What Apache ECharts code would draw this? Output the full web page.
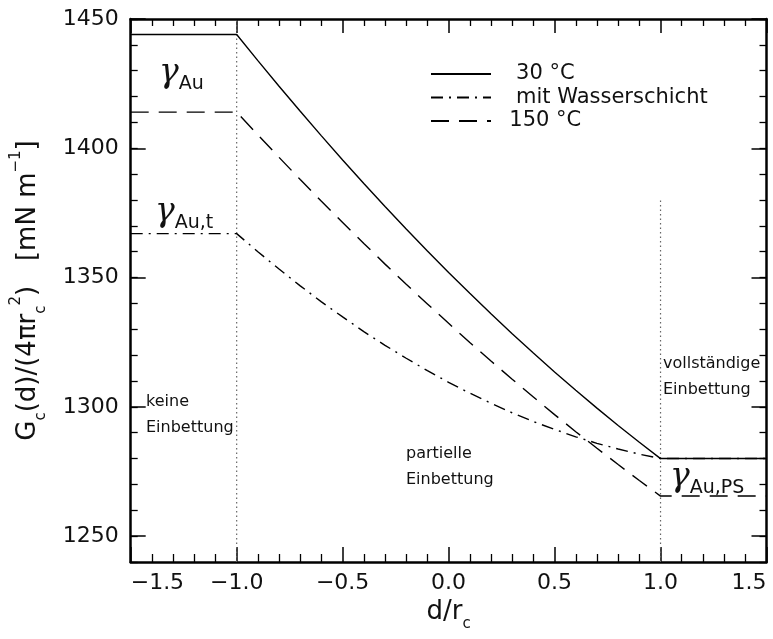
<!DOCTYPE html>
<html>
<head>
<meta charset="utf-8">
<script src="https://cdn.jsdelivr.net/npm/echarts@6/dist/echarts.min.js"></script>
<style>
html,body{margin:0;padding:0;background:#fff;}
#chart{width:773px;height:639px;}
</style>
</head>
<body>
<div id="chart"></div>
<script>
// ---- data ----
const dValues = [-1.5, -1.0, -0.9, -0.8, -0.7, -0.6, -0.5, -0.4, -0.3, -0.2, -0.1, 0.0,
                 0.1, 0.2, 0.3, 0.4, 0.5, 0.6, 0.7, 0.8, 0.9, 1.0, 1.5];
const solid30 = [1444, 1444, 1433.9, 1424.0, 1414.3, 1404.8, 1395.5, 1386.4, 1377.5, 1368.8, 1360.3, 1352.0,
                 1343.9, 1336.0, 1328.3, 1320.8, 1313.5, 1306.4, 1299.5, 1292.8, 1286.3, 1280, 1280];
const wasser = [1367, 1367, 1360.0, 1353.3, 1346.8, 1340.6, 1334.8, 1329.1, 1323.8, 1318.8, 1314.0, 1309.5,
                1305.3, 1301.4, 1297.7, 1294.3, 1291.3, 1288.4, 1285.9, 1283.7, 1281.7, 1280, 1280];
const hot150 = [1414, 1414, 1405.2, 1396.5, 1387.9, 1379.5, 1371.3, 1363.2, 1355.2, 1347.4, 1339.8, 1332.3,
                1324.9, 1317.7, 1310.7, 1303.8, 1297.0, 1290.4, 1284.0, 1277.7, 1271.5, 1265.5, 1265.5];
const seriesNames = ['30 °C', 'mit Wasserschicht', '150 °C'];
const dividerX = [-1, 1];
const dividerTop = [1450, 1380];
const dividerBottom = 1240;
const yMajorTicks = [1250, 1300, 1350, 1400, 1450];
const xRange = [-1.5, 1.5];
const yRange = [1240, 1450];

const FONT = 'DejaVu Sans';
const TXT = '#111';

function pairs(xs, ys) { return xs.map((x, i) => [x, ys[i]]); }

const chart = echarts.init(document.getElementById('chart'), null, {renderer: 'canvas'});

const nameRich = {
  m: {fontFamily: FONT, fontSize: 26, color: TXT, lineHeight: 40},
  s: {fontFamily: FONT, fontSize: 15, color: TXT, lineHeight: 15, verticalAlign: 'bottom'},
  p: {fontFamily: FONT, fontSize: 15, color: TXT, lineHeight: 15, verticalAlign: 'top'}
};

function xAxisDef(pos, show) {
  return {
    type: 'value', position: pos, min: xRange[0], max: xRange[1], interval: 0.5,
    axisLine: {show: true, onZero: false, lineStyle: {color: '#000', width: 2.5}},
    axisTick: {show: true, inside: true, length: pos === 'bottom' ? 15 : 14, lineStyle: {color: '#000', width: 1.5}},
    minorTick: {show: true, splitNumber: 5, length: pos === 'bottom' ? 8 : 7, lineStyle: {color: '#000', width: 1.3}},
    splitLine: {show: false}, minorSplitLine: {show: false},
    axisLabel: {
      show: show, margin: 10, fontFamily: FONT, fontSize: 22, color: TXT,
      alignMinLabel: 'left', alignMaxLabel: 'right',
      formatter: v => (v < 0 ? '\u2212' + Math.abs(v).toFixed(1) : v.toFixed(1))
    }
  };
}
function yMinorAxis(pos, show) {
  return {
    type: 'value', position: pos, min: yRange[0], max: yRange[1], interval: 10,
    axisLine: {show: true, onZero: false, lineStyle: {color: '#000', width: 2.5}},
    axisTick: {show: true, inside: true, length: 7, lineStyle: {color: '#000', width: 1.3}},
    splitLine: {show: false},
    axisLabel: {
      show: show, interval: 0, margin: 12, fontFamily: FONT, fontSize: 22, color: TXT,
      formatter: v => (yMajorTicks.indexOf(Math.round(v)) >= 0 ? String(Math.round(v)) : '')
    }
  };
}
function yMajorAxis(pos) {
  return {
    type: 'value', position: pos, min: yRange[0], max: yRange[1], interval: 10,
    axisLine: {show: false, onZero: false},
    axisTick: {show: true, inside: true, length: 15, customValues: yMajorTicks, lineStyle: {color: '#000', width: 1.5}},
    splitLine: {show: false},
    axisLabel: {show: false}
  };
}

const xA = [xAxisDef('bottom', true), xAxisDef('top', false)];
xA[0].name = '{m|d/r}{s|c}';
xA[0].nameLocation = 'middle';
xA[0].nameGap = 29;
xA[0].nameTextStyle = {rich: nameRich};

const yA = [yMinorAxis('left', true), yMajorAxis('left'), yMinorAxis('right', false), yMajorAxis('right')];
yA[0].name = '{m|G}{s|c}{m|(d)/(4\u03c0r}{s|c}{p|2}{m|)   [mN m}{p|\u22121}{m|]}';
yA[0].nameLocation = 'middle';
yA[0].nameGap = 82;
yA[0].nameTextStyle = {rich: nameRich};

const lineCommon = {type: 'line', xAxisIndex: 0, yAxisIndex: 0, symbol: 'none', showSymbol: false,
                    silent: true, animation: false, clip: true};

const dividerSeries = dividerX.map((x, i) => Object.assign({}, lineCommon, {
  name: 'divider' + i,
  data: [[x, dividerBottom], [x, dividerTop[i]]],
  lineStyle: {color: '#666', width: 1.2, type: [1.5, 3]},
  z: 1
}));

const gammaRich = {
  g: {fontFamily: 'DejaVu Serif', fontStyle: 'italic', fontSize: 33, lineHeight: 40, fill: TXT},
  s: {fontFamily: FONT, fontSize: 19, lineHeight: 19, verticalAlign: 'bottom', fill: TXT}
};

const option = {
  animation: false,
  backgroundColor: '#fff',
  grid: {left: 130.7, right: 6.5, top: 19, bottom: 77, containLabel: false, outerBoundsMode: 'none'},
  xAxis: xA,
  yAxis: yA,
  legend: {
    data: seriesNames,
    orient: 'vertical', left: 430, top: 63, padding: 0,
    itemWidth: 60, itemHeight: 14, itemGap: 1.5,
    selectedMode: false,
    itemStyle: {opacity: 0},
    textStyle: {fontFamily: FONT, fontSize: 21, color: TXT, lineHeight: 22},
    formatter: n => ({'30 °C': '   30 °C', 'mit Wasserschicht': '   mit Wasserschicht', '150 °C': '  150 °C'}[n])
  },
  series: dividerSeries.concat([
    Object.assign({}, lineCommon, {name: seriesNames[0], data: pairs(dValues, solid30),
      lineStyle: {color: '#000', width: 1.4, type: 'solid'}, itemStyle: {color: '#000'}, z: 3}),
    Object.assign({}, lineCommon, {name: seriesNames[1], data: pairs(dValues, wasser),
      lineStyle: {color: '#000', width: 1.4, type: [12, 6, 2, 6]}, itemStyle: {color: '#000'}, z: 3}),
    Object.assign({}, lineCommon, {name: seriesNames[2], data: pairs(dValues, hot150),
      lineStyle: {color: '#000', width: 1.4, type: [18, 10]}, itemStyle: {color: '#000'}, z: 3})
  ]),
  graphic: [
    {type: 'text', left: 146, top: 389, silent: true, style: {text: 'keine\nEinbettung', fontFamily: FONT, fontSize: 16, lineHeight: 26, fill: TXT}},
    {type: 'text', left: 406, top: 441, silent: true, style: {text: 'partielle\nEinbettung', fontFamily: FONT, fontSize: 16, lineHeight: 26, fill: TXT}},
    {type: 'text', left: 663, top: 351, silent: true, style: {text: 'vollständige\nEinbettung', fontFamily: FONT, fontSize: 16, lineHeight: 26, fill: TXT}},
    {type: 'text', left: 159, top: 57, silent: true, style: {text: '{g|\u03b3}{s|Au}', rich: gammaRich}},
    {type: 'text', left: 155, top: 196, silent: true, style: {text: '{g|\u03b3}{s|Au,t}', rich: gammaRich}},
    {type: 'text', left: 670, top: 461, silent: true, style: {text: '{g|\u03b3}{s|Au,PS}', rich: gammaRich}}
  ]
};
chart.setOption(option);
</script>
</body>
</html>
